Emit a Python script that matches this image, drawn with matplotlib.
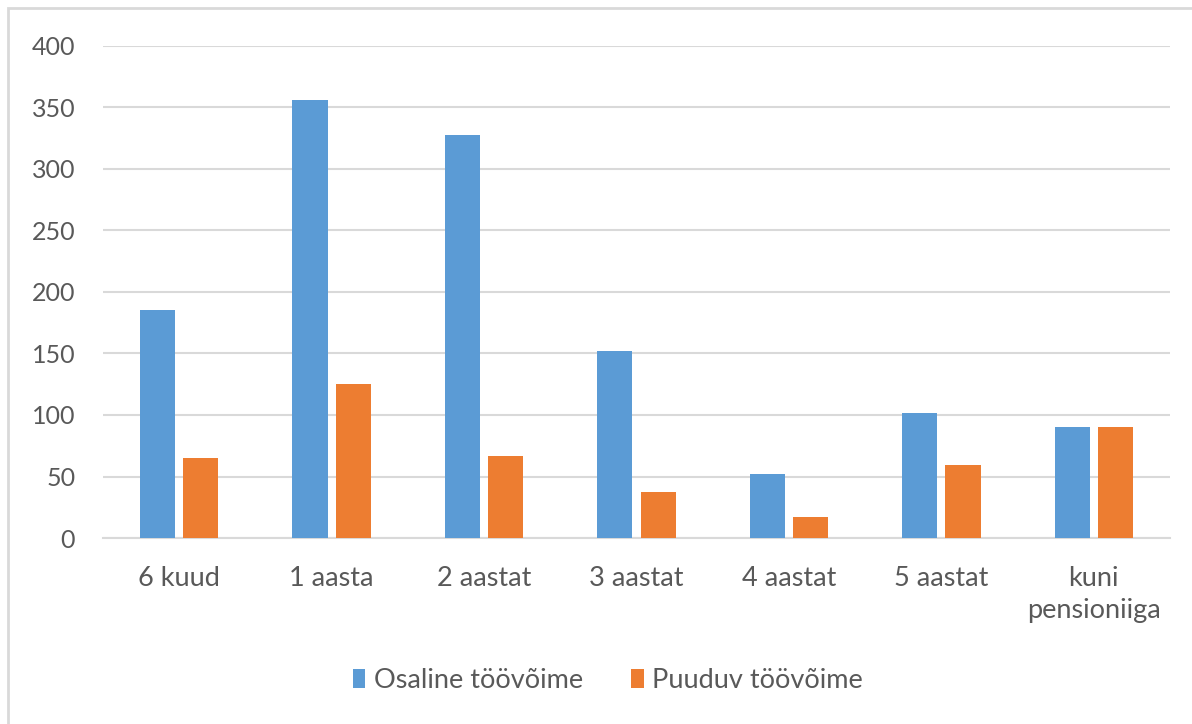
import matplotlib.pyplot as plt
import numpy as np
from matplotlib.patches import Rectangle

categories = ["6 kuud", "1 aasta", "2 aastat", "3 aastat", "4 aastat", "5 aastat", "kuni\npensioniiga"]
osaline = [185, 356, 328, 152, 52, 102, 90]
puuduv = [65, 125, 67, 37, 17, 59, 90]

blue = "#5b9bd5"
orange = "#ed7d31"
txt = "#595959"

plt.rcParams['font.family'] = ['Lato', 'DejaVu Sans']

fig = plt.figure(figsize=(11.92, 7.24), dpi=100)
ax = fig.add_axes([103 / 1192, 0.2569, 1067 / 1192, 0.6796])

x = np.arange(len(categories))
w = 0.23
ax.bar(x - 0.142, osaline, w, color=blue, label="Osaline töövõime", zorder=3)
ax.bar(x + 0.142, puuduv, w, color=orange, label="Puuduv töövõime", zorder=3)

ax.set_xlim(-0.5, len(categories) - 0.5)
ax.set_ylim(0, 400)
ax.set_yticks(range(0, 401, 50))
ax.yaxis.grid(True, color="#d9d9d9", linewidth=1.5, zorder=0)
ax.set_xticks(x)
ax.set_xticklabels(categories, fontsize=19.5, color=txt, linespacing=1.35, va="top")
ax.tick_params(axis="y", labelsize=18, labelcolor=txt, length=0, pad=20)
ax.tick_params(axis="x", length=0, pad=20)
for s in ["top", "right", "left"]:
    ax.spines[s].set_visible(False)
ax.spines["bottom"].set_color("#d9d9d9")
ax.spines["bottom"].set_linewidth(1.5)

leg = fig.legend(loc="center", bbox_to_anchor=(0.51, 0.06), ncol=2, frameon=False,
                 fontsize=19.5, handlelength=0.45, handleheight=0.7, handletextpad=0.3,
                 columnspacing=1.8)
for t in leg.get_texts():
    t.set_color(txt)

fig.patches.append(Rectangle((8 / 1192, -0.1), 1.2, 1 - 8 / 724 + 0.1, transform=fig.transFigure,
                             fill=False, edgecolor="#d9d9d9", linewidth=2))

fig.savefig("out.png", dpi=100)
